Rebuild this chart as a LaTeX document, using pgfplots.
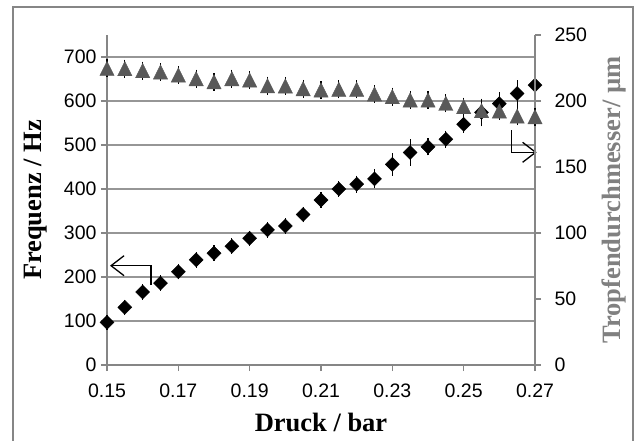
\documentclass[border=0pt]{standalone}
\usepackage{pgfplots}
\usepackage{pgfplotstable}
\pgfplotsset{compat=1.18}
\usepackage{fontspec}
\setmainfont{Liberation Sans}
\newfontfamily\titlefont{Liberation Serif}
\usetikzlibrary{arrows.meta}
\definecolor{axgray}{RGB}{134,134,134}
\definecolor{gridgray}{RGB}{150,150,150}
\definecolor{trigray}{RGB}{89,89,89}
\definecolor{labgray}{RGB}{128,128,128}

\pgfplotstableread{
x y e
0.150 97 4
0.155 131 4
0.160 166 4
0.165 186 4
0.170 212 4
0.175 239 4
0.180 254 4
0.185 270 4
0.190 288 4
0.195 307 4
0.200 316 4
0.205 342 4
0.210 375 4
0.215 400 4
0.220 411 6
0.225 423 8
0.230 456 12
0.235 483 16
0.240 496 6
0.245 513 6
0.250 547 6
0.255 574 18
0.260 594 12
0.265 617 17
0.270 636 13
}\freq

\pgfplotstableread{
x y e
0.150 224.7 3
0.155 224.5 3
0.160 223.0 3
0.165 222.0 3
0.170 219.7 3
0.175 216.9 3
0.180 214.6 3
0.185 216.9 3
0.190 215.9 3
0.195 211.6 3
0.200 211.4 3
0.205 209.3 3
0.210 208.3 3
0.215 208.8 3
0.220 208.8 3
0.225 205.3 3
0.230 203.3 3
0.235 200.8 3
0.240 200.8 3
0.245 198.2 3
0.250 195.7 3
0.255 192.7 4
0.260 192.4 3
0.265 188.6 3
0.270 188.1 3
}\drop

\begin{document}
\begin{tikzpicture}
\path[use as bounding box] (0,0) rectangle (637pt,-441pt);
\draw[axgray, line width=1.2pt] (13pt,-7pt) rectangle (633pt,-470pt);
\pgfplotsset{
  every axis/.append style={
    scale only axis, width=428pt, height=330pt,
    at={(107pt,-365pt)}, anchor=south west,
    xmin=0.15, xmax=0.27, clip=false,
    tick align=outside, major tick length=6pt,
    tick style={axgray, line width=1.2pt},
    axis line style={axgray, line width=1.4pt, -},
    tick label style={font=\fontsize{19.5}{20}\selectfont, text=black},
    /pgf/number format/assume math mode=true,
  }
}
\begin{axis}[
  axis y line*=left, axis x line*=bottom,
  ymin=0, ymax=750, ytick={0,100,...,700},
  xtick={0.15,0.17,0.19,0.21,0.23,0.25,0.27},
  x tick label style={yshift=-9pt, /pgf/number format/.cd, fixed, fixed zerofill, precision=2, /tikz/.cd},
  y tick label style={xshift=-1pt},
  ymajorgrids, grid style={gridgray, line width=1.2pt},
  xlabel={\titlefont\bfseries Druck / bar},
  ylabel={\titlefont\bfseries Frequenz / Hz},
  xlabel style={at={(axis description cs:0.5,-0.203)}, anchor=base, font=\fontsize{26.5}{28}\selectfont},
  ylabel style={at={(axis description cs:-0.152,0.5)}, anchor=base, font=\fontsize{26.5}{28}\selectfont},
]
\addplot[only marks, mark=square*, mark size=4.95pt, mark options={black, rotate=45},
  error bars/.cd, y dir=both, y explicit,
  error bar style={black, line width=1.2pt},
  error mark options={black, mark size=6pt, line width=1.2pt}]
  table[x=x, y=y, y error=e]{\freq};
\draw[black, line width=1.3pt, -{Straight Barb[length=13pt, width=20pt]}]
  (axis cs:0.16234,181.8) -- (axis cs:0.16234,225.7) -- (axis cs:0.15084,225.7);
\draw[black, line width=1.3pt, -{Straight Barb[length=13pt, width=20pt]}]
  (axis cs:0.26346,534.1) -- (axis cs:0.26346,483.4) -- (axis cs:0.27047,483.4);
\end{axis}
\begin{axis}[
  axis y line*=right, axis x line=none,
  ymin=0, ymax=250, ytick={0,50,...,250}, xtick=\empty,
  y tick label style={xshift=10pt},
  ylabel={\titlefont\bfseries Tropfendurchmesser/ µm},
  ylabel style={at={(axis description cs:1.1986,0.5)}, anchor=base, text=labgray, font=\fontsize{26.5}{28}\selectfont},
]
\addplot[only marks, mark=triangle*, mark size=8.26pt, mark options={trigray, yshift=-2.37pt, yscale=1.15},
  error bars/.cd, y dir=both, y explicit,
  error bar style={black, line width=1.2pt},
  error mark options={black, mark size=5pt, line width=1.2pt}]
  table[x=x, y=y, y error=e]{\drop};
\end{axis}
\end{tikzpicture}
\end{document}
